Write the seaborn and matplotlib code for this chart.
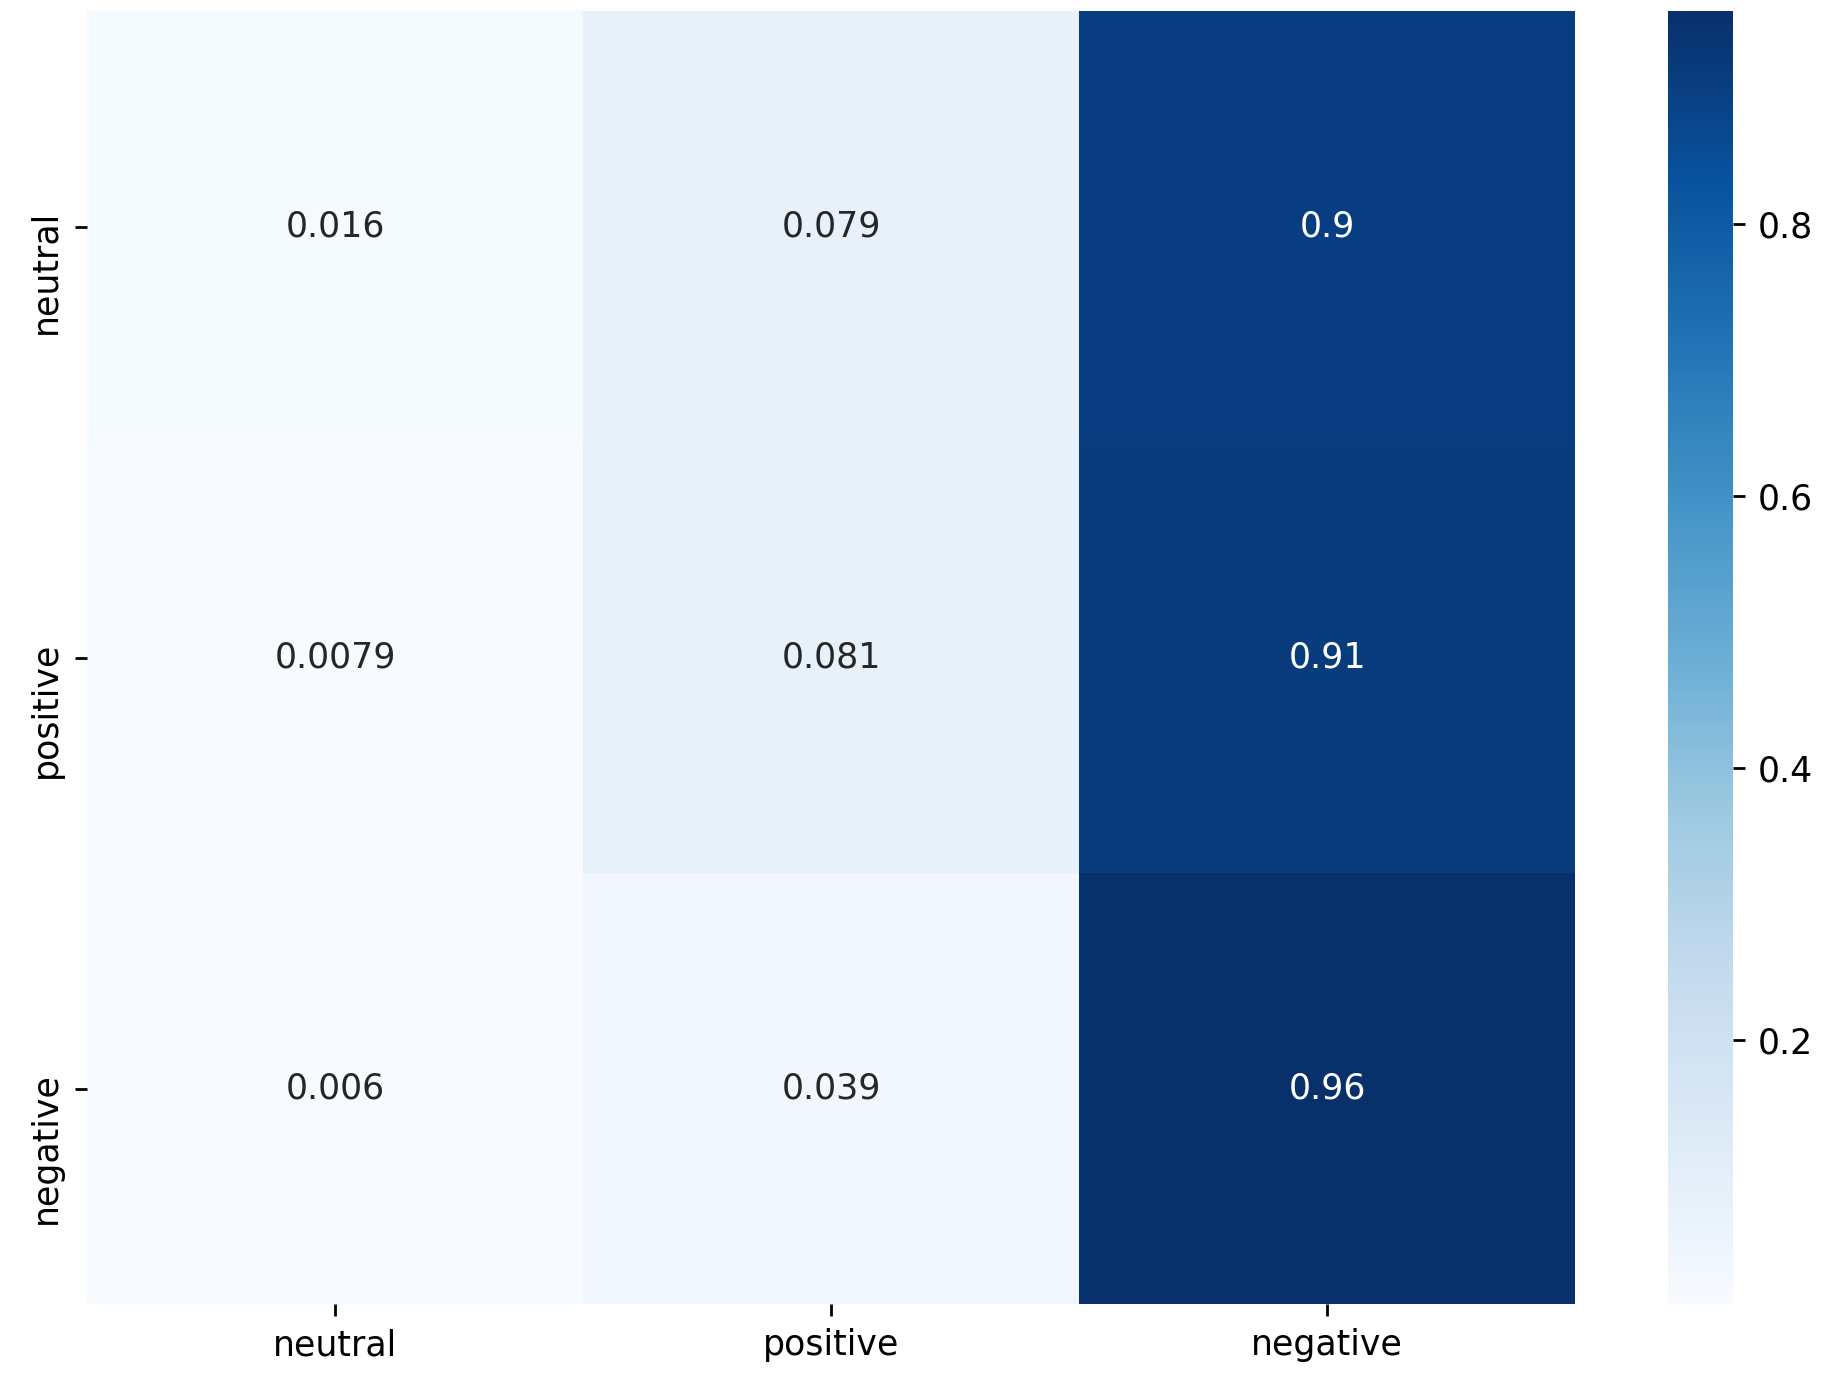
import numpy as np
import pandas as pd
import matplotlib
matplotlib.use('Agg')
import matplotlib.pyplot as plt
import matplotlib.transforms as mtransforms
import seaborn as sns

labels = ['neutral', 'positive', 'negative']
row_neutral = [0.016, 0.079, 0.904]
row_positive = [0.0079, 0.081, 0.911]
row_negative = [0.006, 0.039, 0.957]

cm = pd.DataFrame([row_neutral, row_positive, row_negative], index=labels, columns=labels)

fig = plt.figure(figsize=(7.332, 5.508), dpi=250)
ax = fig.add_axes([0.0475, 0.053, 0.8118, 0.939])
cax = fig.add_axes([0.91, 0.053, 0.0355, 0.939])
sns.heatmap(cm, annot=True, cmap='Blues', ax=ax, cbar_ax=cax)

# y labels hang down from the tick like in the original
offset = mtransforms.ScaledTranslation(0, 4.7 / 72, fig.dpi_scale_trans)
for lbl in ax.get_yticklabels():
    lbl.set_va('top')
    lbl.set_transform(lbl.get_transform() + offset)

plt.savefig('out.png', dpi=250)
